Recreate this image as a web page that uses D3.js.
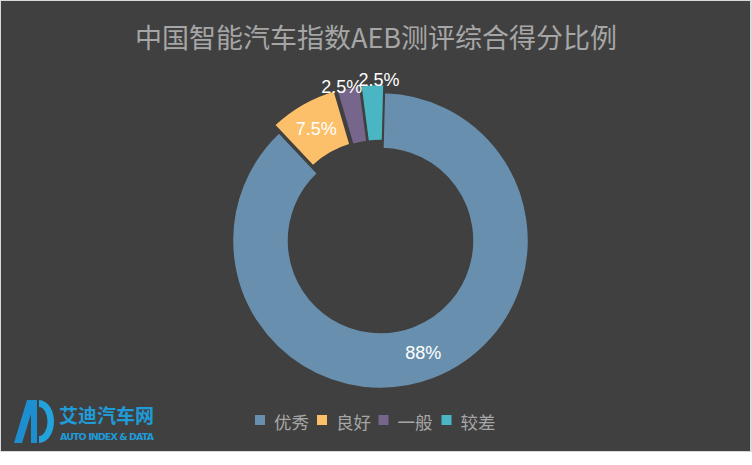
<!DOCTYPE html>
<html>
<head>
<meta charset="utf-8">
<script src="https://cdn.jsdelivr.net/npm/d3@7/dist/d3.min.js"></script>
<style>
  html, body { margin: 0; padding: 0; background: #ffffff; }
  svg { display: block; }
</style>
</head>
<body>
<svg id="chart" width="752" height="465"></svg>
<script>
// ---- data ----
const categories = ["优秀", "良好", "一般", "较差"];
const values = [88, 7.5, 2.5, 2.5];
const valueLabels = ["88%", "7.5%", "2.5%", "2.5%"];
const colors = ["#6890ae", "#fcbf6a", "#77668b", "#4bb6c3"];
const title = "中国智能汽车指数AEB测评综合得分比例";

// ---- layout ----
const W = 752, H = 465;
const cx = 380.5, cy = 240.5;
const outerR = 148, innerR = 92;
const rot = 1.5 * Math.PI / 180;
const explode = [0, 9, 8, 8];
const labelR = [120, 129, 158, 161];
const labelShift = [0, 0, -2.3, 2.4].map(d => d * Math.PI / 180);

const svg = d3.select("#chart");

svg.append("rect").attr("x", 0).attr("y", 0).attr("width", 752).attr("height", 452).attr("fill", "#d9d9d9");
svg.append("rect").attr("x", 1).attr("y", 1).attr("width", 749).attr("height", 450).attr("fill", "#404040");

svg.append("text")
  .attr("x", 376).attr("y", 36)
  .attr("text-anchor", "middle")
  .attr("dominant-baseline", "central")
  .attr("font-family", "'Noto Sans CJK SC', 'Noto Sans', sans-serif")
  .attr("font-size", 27)
  .attr("fill", "#a6a6a6")
  .text(title);

const pie = d3.pie().sort(null).value(d => d).startAngle(rot).endAngle(rot + 2 * Math.PI);
const arcs = pie(values);
const arc = d3.arc().innerRadius(innerR).outerRadius(outerR);

const g = svg.append("g").attr("transform", `translate(${cx},${cy})`);

g.selectAll("path.slice")
  .data(arcs)
  .join("path")
  .attr("class", "slice")
  .attr("d", arc)
  .attr("transform", (d, i) => {
    const a = (d.startAngle + d.endAngle) / 2;
    return `translate(${Math.sin(a) * explode[i]},${-Math.cos(a) * explode[i]})`;
  })
  .attr("fill", (d, i) => colors[i])
  .attr("stroke", "#404040")
  .attr("stroke-width", 1.5);

g.selectAll("text.lbl")
  .data(arcs)
  .join("text")
  .attr("class", "lbl")
  .attr("x", (d, i) => Math.sin((d.startAngle + d.endAngle) / 2 + labelShift[i]) * labelR[i])
  .attr("y", (d, i) => -Math.cos((d.startAngle + d.endAngle) / 2 + labelShift[i]) * labelR[i])
  .attr("text-anchor", "middle")
  .attr("dominant-baseline", "central")
  .attr("font-family", "'Liberation Sans', Arial, sans-serif")
  .attr("font-size", 18)
  .attr("fill", "#ffffff")
  .text((d, i) => valueLabels[i]);

// ---- legend ----
const legendX = [255, 317, 378.5, 441.5];
const lg = svg.append("g");
categories.forEach((c, i) => {
  lg.append("rect")
    .attr("x", legendX[i]).attr("y", 415)
    .attr("width", 10).attr("height", 10)
    .attr("fill", colors[i]);
  lg.append("text")
    .attr("x", legendX[i] + 19).attr("y", 421)
    .attr("dominant-baseline", "central")
    .attr("font-family", "'Noto Sans CJK SC', sans-serif")
    .attr("font-size", 17.5)
    .attr("fill", "#a6a6a6")
    .text(c);
});

// ---- logo ----
const logo = svg.append("g");
logo.append("path")
  .attr("d", "M14,443 L27,400 L37,400 L37,443 L31,443 L31,414 L22,443 Z")
  .attr("fill", "#1d8fd0");
logo.append("path")
  .attr("d", "M39,400 A15,21.5 0 0 1 39,443 L39,436 A8.5,14.5 0 0 0 39,407 Z")
  .attr("fill", "#22a3de");
logo.append("text")
  .attr("x", 59).attr("y", 414)
  .attr("dominant-baseline", "central")
  .attr("font-family", "'Noto Sans CJK SC', sans-serif")
  .attr("font-weight", "bold")
  .attr("font-size", 19)
  .attr("fill", "#1f9bd8")
  .text("艾迪汽车网");
logo.append("text")
  .attr("x", 60).attr("y", 436.5)
  .attr("dominant-baseline", "central")
  .attr("font-family", "'DejaVu Sans', sans-serif")
  .attr("font-weight", "bold")
  .attr("font-size", 9.5)
  .attr("textLength", 94)
  .attr("fill", "#1f9bd8")
  .text("AUTO INDEX & DATA");
</script>
</body>
</html>
